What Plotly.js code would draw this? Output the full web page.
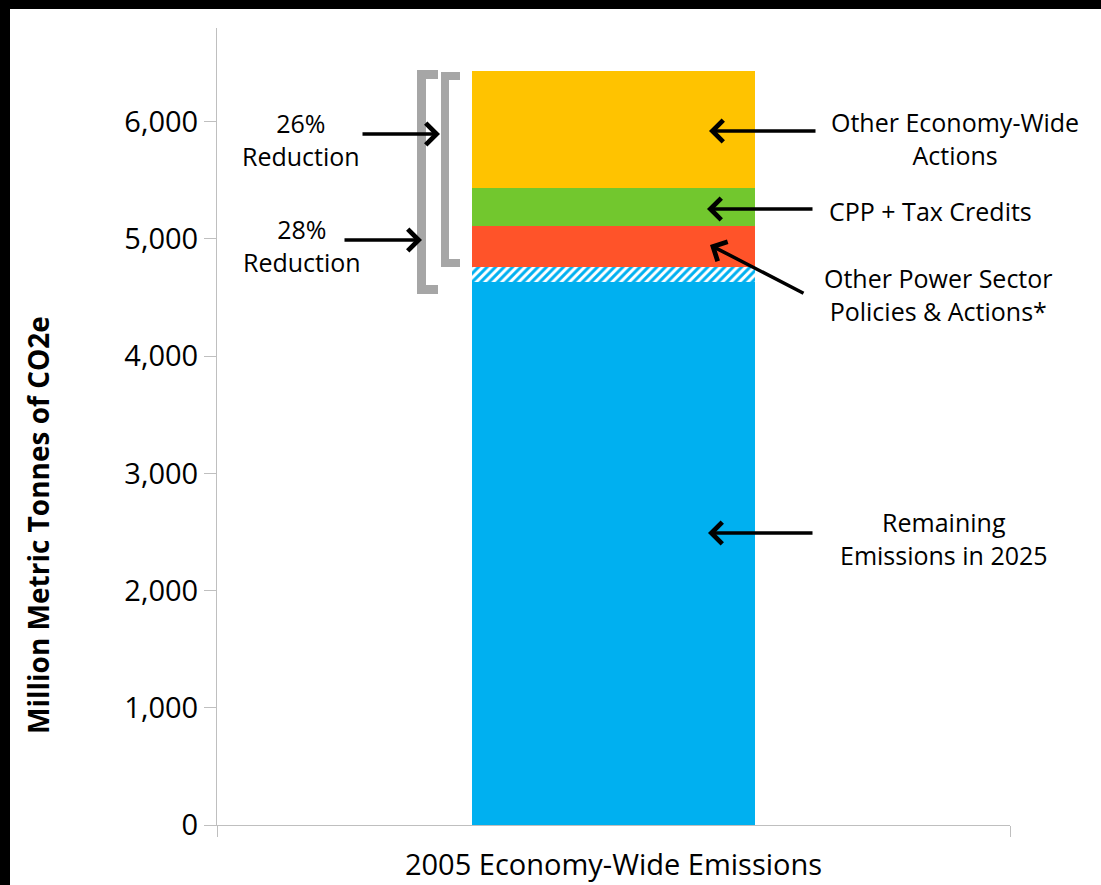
<!DOCTYPE html>
<html>
<head>
<meta charset="utf-8">
<script src="https://cdn.plot.ly/plotly-3.0.1.min.js"></script>
<style>
  html, body { margin: 0; padding: 0; background: #000; width: 1101px; height: 885px; overflow: hidden; }
  #chart { position: absolute; left: 10px; top: 9px; width: 1091px; height: 876px; background: #fff; }
</style>
</head>
<body>
<div id="chart"></div>
<script>
// ---- Data (Million Metric Tonnes of CO2e) ----
const categories = ['2005 Economy-Wide Emissions'];
const remainingEmissions2025 = [4630];
const otherPowerHatched = [135];
const otherPowerSector = [347];
const cppTaxCredits = [322];
const otherEconomyWide = [996];

const seriesNames = ['Remaining Emissions in 2025', 'Other Power Sector (hatched)', 'Other Power Sector Policies & Actions*', 'CPP + Tax Credits', 'Other Economy-Wide Actions'];
const yTickValues = [0, 1000, 2000, 3000, 4000, 5000, 6000];
const reductionLabels = ['26%<br>Reduction', '28%<br>Reduction'];
const segmentLabels = ['Other Economy-Wide<br>Actions', 'CPP + Tax Credits', 'Other Power Sector<br>Policies & Actions*', 'Remaining<br>Emissions in 2025'];
const yAxisTitle = 'Million Metric Tonnes of CO2e';

// ---- Layout geometry helpers (pixel -> paper) ----
const W = 1091, H = 876, ML = 207, MR = 91, MT = 19, MB = 60;
const OX = 10, OY = 9; // page offset of the chart div
const PW = W - ML - MR, PH = H - MT - MB;
const px = x => (x - OX - ML) / PW;
const py = y => 1 - (y - OY - MT) / PH;

const FONT = '"Open Sans", "Noto Sans", sans-serif';

const barWidth = 0.357;
const traces = [
  { name: seriesNames[0], y: remainingEmissions2025, marker: { color: '#00b0f0', line: { width: 0 } } },
  { name: seriesNames[1], y: otherPowerHatched, marker: { color: '#ffffff', line: { width: 0 },
      pattern: { shape: '/', fgcolor: '#00b0f0', bgcolor: '#ffffff', size: 6, solidity: 0.5, fillmode: 'replace' } } },
  { name: seriesNames[2], y: otherPowerSector, marker: { color: '#ff5329', line: { width: 0 } } },
  { name: seriesNames[3], y: cppTaxCredits, marker: { color: '#72c72e', line: { width: 0 } } },
  { name: seriesNames[4], y: otherEconomyWide, marker: { color: '#ffc300', line: { width: 0 } } }
].map(t => Object.assign({ type: 'bar', x: categories, width: barWidth, hoverinfo: 'name+y' }, t));

// ---- Annotations ----
const annotations = [];
// y-axis title (rotated)
annotations.push({ xref: 'paper', yref: 'paper', x: px(38), y: py(525), text: yAxisTitle, textangle: -90,
  showarrow: false, xanchor: 'center', yanchor: 'middle', font: { family: FONT, size: 28, color: '#000', weight: 'bold' } });

// text labels
const labelPos = [[301, 139], [302, 245]];
reductionLabels.forEach((t, i) => annotations.push({ xref: 'paper', yref: 'paper', x: px(labelPos[i][0]), y: py(labelPos[i][1]),
  text: t, showarrow: false, xanchor: 'center', yanchor: 'middle', font: { family: FONT, size: 25, color: '#000' } }));
const segPos = [[955, 138], [930, 211], [938, 294], [944, 538]];
segmentLabels.forEach((t, i) => annotations.push({ xref: 'paper', yref: 'paper', x: px(segPos[i][0]), y: py(segPos[i][1]),
  text: t, showarrow: false, xanchor: 'center', yanchor: 'middle', font: { family: FONT, size: 25, color: '#000' } }));

// arrows: [headX, headY, tailX, tailY] in page pixels
const arrows = [
  [709, 131, 817, 131],
  [707, 209, 814, 209],
  [710, 245, 805, 294],
  [708, 533, 814, 533],
  [440, 134, 361, 134],
  [422, 240, 343, 240]
];
arrows.forEach(a => annotations.push({ xref: 'paper', yref: 'paper', x: px(a[0]), y: py(a[1]),
  axref: 'pixel', ayref: 'pixel', ax: a[2] - a[0], ay: a[3] - a[1], text: '', showarrow: true,
  arrowhead: 4, arrowsize: 1.2, arrowwidth: 3.5, arrowcolor: '#000', standoff: 0 }));

// ---- Brackets (gray) ----
const bracketColor = '#a6a6a6';
function bracketPath(xv, xa, yt, yb) {
  return `M ${px(xa)} ${py(yt)} L ${px(xv)} ${py(yt)} L ${px(xv)} ${py(yb)} L ${px(xa)} ${py(yb)}`;
}
const shapes = [
  { type: 'path', xref: 'paper', yref: 'paper', path: bracketPath(421.5, 438, 74.5, 289.5), line: { color: bracketColor, width: 9 } },
  { type: 'path', xref: 'paper', yref: 'paper', path: bracketPath(445, 460, 76, 263), line: { color: bracketColor, width: 8 } }
];

const layout = {
  width: W, height: H,
  margin: { l: ML, r: MR, t: MT, b: MB, pad: 0 },
  paper_bgcolor: '#ffffff', plot_bgcolor: '#ffffff',
  barmode: 'stack', showlegend: false,
  font: { family: FONT, color: '#000' },
  xaxis: {
    type: 'category', range: [-0.5, 0.5], showline: true, linecolor: '#bfbfbf', linewidth: 1,
    ticks: 'outside', tickson: 'boundaries', ticklen: 11, tickcolor: '#bfbfbf', tickwidth: 1,
    showgrid: false, zeroline: false, fixedrange: true, ticklabelstandoff: 14,
    tickfont: { family: FONT, size: 29, color: '#000' }
  },
  yaxis: {
    range: [0, 6800], tickvals: yTickValues, tickformat: ',', showline: true, linecolor: '#bfbfbf', linewidth: 1,
    ticks: 'outside', ticklen: 12, tickcolor: '#bfbfbf', tickwidth: 1,
    showgrid: false, zeroline: false, fixedrange: true,
    tickfont: { family: FONT, size: 29, color: '#000' }
  },
  annotations: annotations,
  shapes: shapes
};

Plotly.newPlot('chart', traces, layout, { displayModeBar: false, staticPlot: true });
</script>
</body>
</html>
